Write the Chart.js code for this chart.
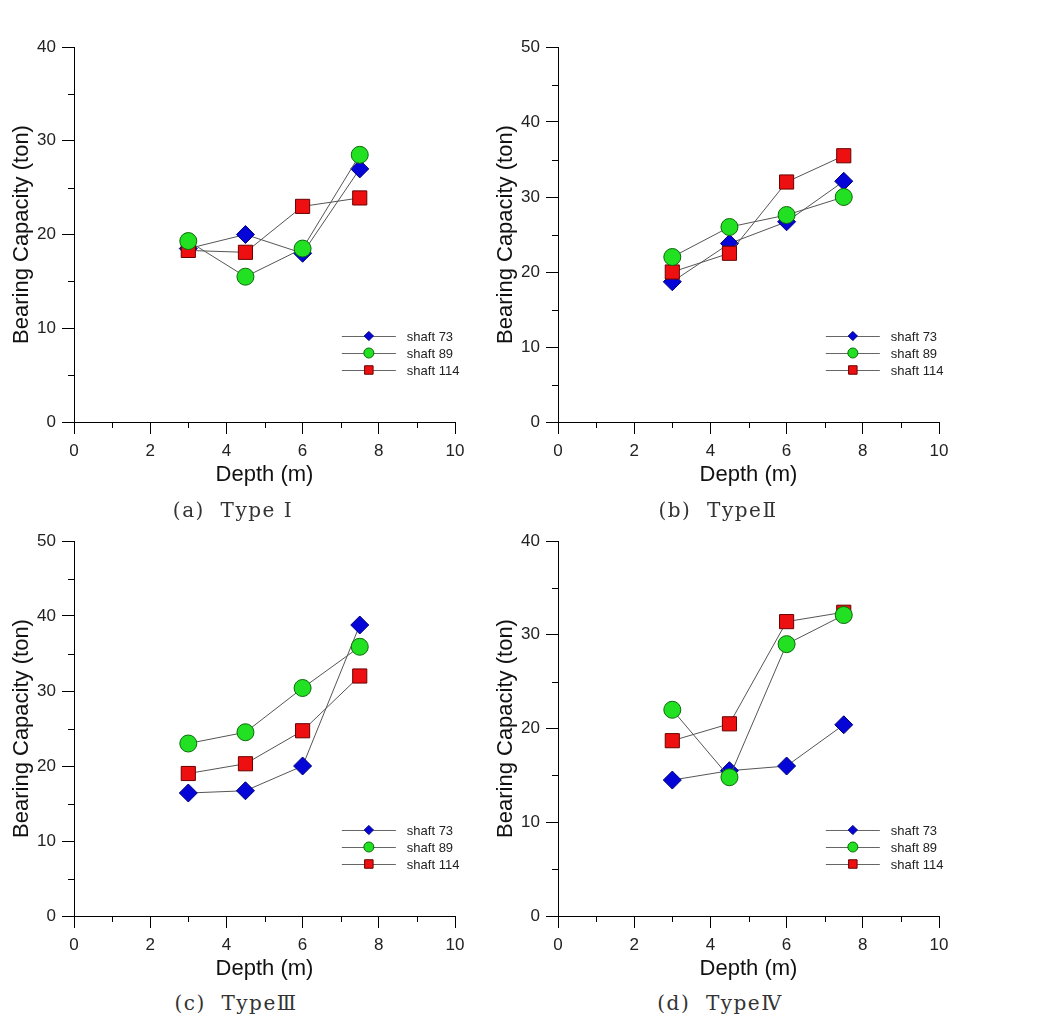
<!DOCTYPE html>
<html>
<head>
<meta charset="utf-8">
<script src="https://cdn.jsdelivr.net/npm/chart.js@4/dist/chart.umd.min.js"></script>
<style>
  body { margin: 0; background: #fff; width: 1051px; height: 1027px; position: relative; overflow: hidden; }
  .panel { position: absolute; width: 490px; height: 490px; }
  .cap { position: absolute; font-family: "DejaVu Serif", "Liberation Serif", serif; font-size: 20px;
         letter-spacing: 1.5px; color: #333; white-space: pre; transform: translate(-50%, -50%); }
</style>
</head>
<body>
<div class="panel" style="left:0;top:0"><canvas id="c1"></canvas></div>
<div class="panel" style="left:484px;top:0"><canvas id="c2"></canvas></div>
<div class="panel" style="left:0;top:494px"><canvas id="c3"></canvas></div>
<div class="panel" style="left:484px;top:494px"><canvas id="c4"></canvas></div>
<div class="cap" style="left:233px;top:510px">(a)  Type Ⅰ</div>
<div class="cap" style="left:718px;top:510px">(b)  TypeⅡ</div>
<div class="cap" style="left:236px;top:1003px">(c)  TypeⅢ</div>
<div class="cap" style="left:720px;top:1003px">(d)  TypeⅣ</div>
<script>
// depth of each test (m)
const depths = [3, 4.5, 6, 7.5]
const seriesNames = ['shaft 73', 'shaft 89', 'shaft 114']

// bearing capacity (ton)
const typeI73 = [18.5, 20.0, 18.0, 27.0]
const typeI89 = [19.3, 15.5, 18.5, 28.5]
const typeI114 = [18.3, 18.1, 23.0, 23.9]

const typeII73 = [18.7, 23.8, 26.7, 32.1]
const typeII89 = [22.0, 26.0, 27.6, 30.0]
const typeII114 = [20.0, 22.5, 32.0, 35.5]

const typeIII73 = [16.4, 16.7, 20.0, 38.8]
const typeIII89 = [23.0, 24.5, 30.4, 35.9]
const typeIII114 = [19.0, 20.3, 24.7, 32.0]

const typeIV73 = [14.5, 15.5, 16.0, 20.4]
const typeIV89 = [22.0, 14.8, 29.0, 32.1]
const typeIV114 = [18.7, 20.5, 31.4, 32.4]

const yMaxes = [40, 50, 50, 40]
const xTicks = [0, 2, 4, 6, 8, 10]

const FONT = "'Liberation Sans', Arial, sans-serif"

// marker styles per series
const markers = [
  { pointStyle: 'rectRot', radius: 9, legendRadius: 4.6, fill: '#0505d8', border: '#00007a', order: 3 },
  { pointStyle: 'circle', radius: 8.5, legendRadius: 5, fill: '#22e022', border: '#0a6a0a', order: 1 },
  { pointStyle: 'rect', radius: 10, legendRadius: 6, fill: '#ee1010', border: '#6a0000', order: 2 }
]

function pts(values) {
  return depths.map((d, i) => ({ x: d, y: values[i] }))
}

// small ticks between the labelled ones
const minorTicks = {
  id: 'minorTicks',
  afterDraw(chart) {
    const ctx = chart.ctx
    const xs = chart.scales.x
    const ys = chart.scales.y
    ctx.save()
    ctx.strokeStyle = '#000'
    ctx.lineWidth = 1
    ctx.beginPath()
    for (let v = 1; v < 10; v += 2) {
      const px = Math.round(xs.getPixelForValue(v)) + 0.5
      ctx.moveTo(px, ys.bottom)
      ctx.lineTo(px, ys.bottom + 6)
    }
    for (let v = 5; v < ys.max; v += 10) {
      const py = Math.round(ys.getPixelForValue(v)) + 0.5
      ctx.moveTo(xs.left - 6, py)
      ctx.lineTo(xs.left, py)
    }
    ctx.stroke()
    ctx.restore()
  }
}

// legend sitting inside the plot, lower right
const innerLegend = {
  id: 'innerLegend',
  afterDatasetsDraw(chart) {
    const ctx = chart.ctx
    const a = chart.chartArea
    const x0 = a.left + 0.703 * (a.right - a.left)
    ctx.save()
    chart.data.datasets.forEach((ds, i) => {
      const m = markers[i]
      const y = a.bottom - 86 + i * 17
      ctx.strokeStyle = '#666'
      ctx.lineWidth = 1
      ctx.beginPath()
      ctx.moveTo(x0, y + 0.5)
      ctx.lineTo(x0 + 54, y + 0.5)
      ctx.stroke()
      ctx.fillStyle = m.fill
      ctx.strokeStyle = m.border
      Chart.helpers.drawPoint(ctx, { pointStyle: m.pointStyle, radius: m.legendRadius, rotation: 0, borderWidth: 1 }, x0 + 27, y)
      ctx.fillStyle = '#222'
      ctx.font = '13px ' + FONT
      ctx.textBaseline = 'middle'
      ctx.fillText(ds.label, x0 + 65, y + 1)
    })
    ctx.restore()
  }
}

function makeChart(id, s73, s89, s114, yMax) {
  const sets = [s73, s89, s114].map((vals, i) => ({
    label: seriesNames[i],
    data: pts(vals),
    borderColor: '#555',
    borderWidth: 1,
    pointStyle: markers[i].pointStyle,
    pointRadius: markers[i].radius,
    pointHoverRadius: markers[i].radius,
    pointBackgroundColor: markers[i].fill,
    pointBorderColor: markers[i].border,
    pointBorderWidth: 1,
    order: markers[i].order,
    fill: false,
    tension: 0
  }))
  new Chart(document.getElementById(id), {
    type: 'line',
    data: { datasets: sets },
    options: {
      responsive: true,
      maintainAspectRatio: false,
      animation: false,
      layout: { padding: { top: 47, right: 35, left: 0, bottom: 0 } },
      plugins: { legend: { display: false }, tooltip: { enabled: false } },
      scales: {
        x: {
          type: 'linear', min: 0, max: 10,
          afterBuildTicks: s => { s.ticks = xTicks.map(v => ({ value: v })) },
          afterFit: s => { s.height = 68 },
          grid: { drawOnChartArea: false, drawTicks: true, tickLength: 12, color: '#000' },
          border: { color: '#000', width: 1 },
          ticks: { color: '#222', padding: 7, maxRotation: 0, font: { family: FONT, size: 17 } },
          title: { display: true, text: 'Depth (m)', color: '#111', padding: { top: 0, bottom: 2 }, font: { family: FONT, size: 22 } }
        },
        y: {
          type: 'linear', min: 0, max: yMax,
          ticks: { stepSize: 10, color: '#222', padding: 6, font: { family: FONT, size: 17 } },
          afterFit: s => { s.width = 74 },
          grid: { drawOnChartArea: false, drawTicks: true, tickLength: 12, color: '#000' },
          border: { color: '#000', width: 1 },
          title: { display: true, text: 'Bearing Capacity (ton)', color: '#111', padding: { top: 9, bottom: 0 }, font: { family: FONT, size: 22 } }
        }
      }
    },
    plugins: [minorTicks, innerLegend]
  })
}

makeChart('c1', typeI73, typeI89, typeI114, yMaxes[0])
makeChart('c2', typeII73, typeII89, typeII114, yMaxes[1])
makeChart('c3', typeIII73, typeIII89, typeIII114, yMaxes[2])
makeChart('c4', typeIV73, typeIV89, typeIV114, yMaxes[3])
</script>
</body>
</html>
